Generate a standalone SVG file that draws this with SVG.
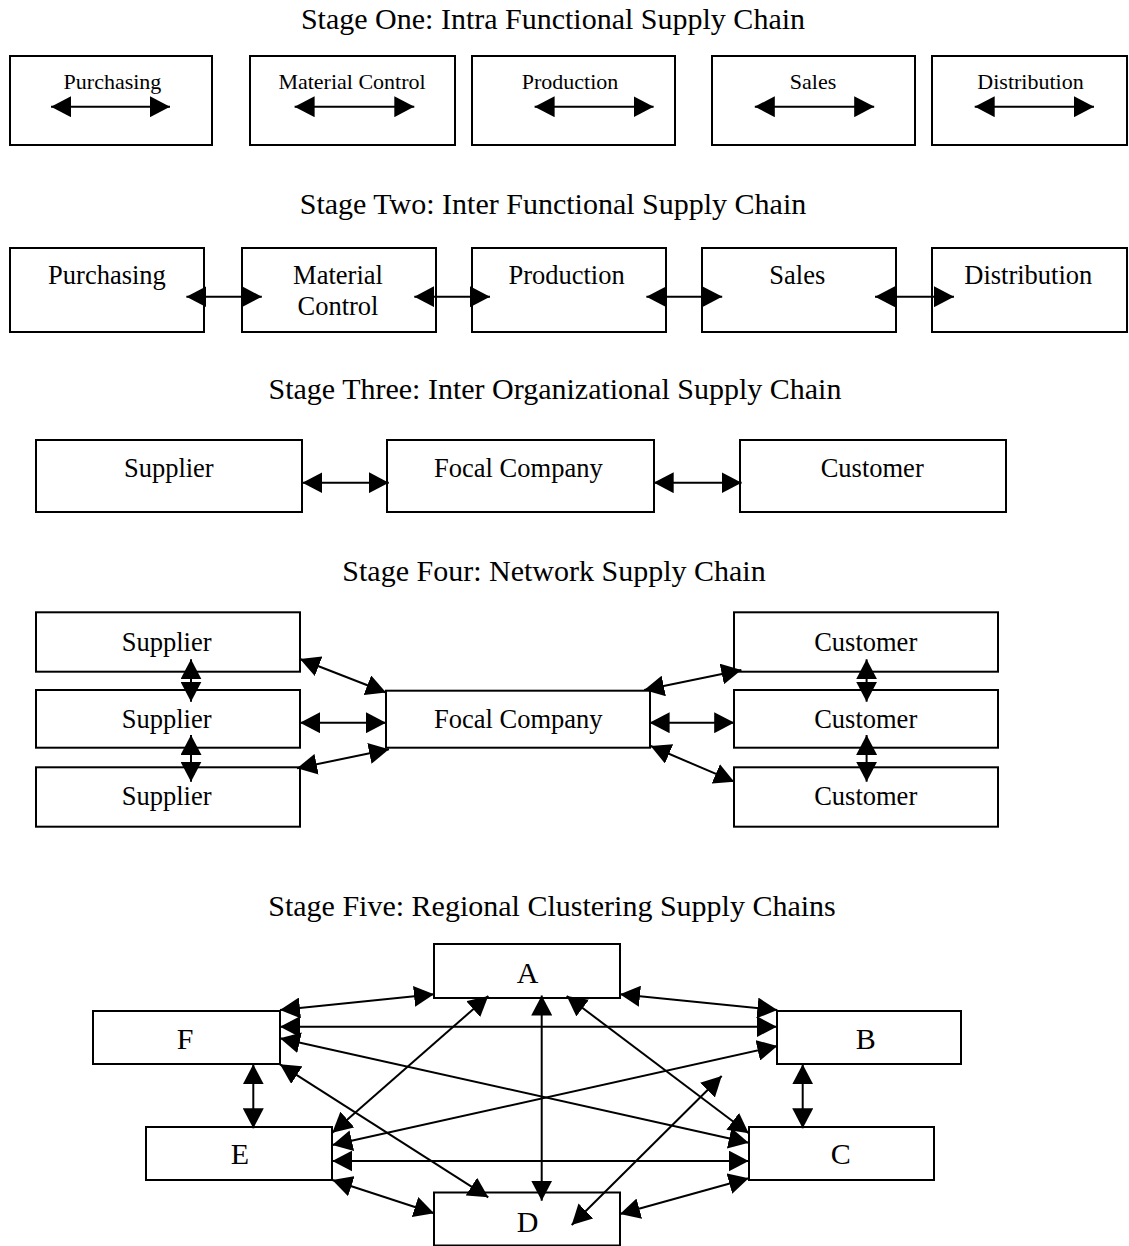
<svg xmlns="http://www.w3.org/2000/svg" width="1129" height="1246" viewBox="0 0 1129 1246">
  <style>
    .bg { fill: #ffffff; }
    .box { fill: #ffffff; stroke: #000000; stroke-width: 2; }
    .title { font-family: "Liberation Serif", "Times New Roman", serif; font-size: 30px; fill: #000000; text-anchor: middle; }
    .s1 { font-family: "Liberation Serif", "Times New Roman", serif; font-size: 22px; fill: #000000; text-anchor: middle; }
    .lbl { font-family: "Liberation Serif", "Times New Roman", serif; font-size: 26.5px; fill: #000000; text-anchor: middle; }
    .big { font-family: "Liberation Serif", "Times New Roman", serif; font-size: 30px; fill: #000000; text-anchor: middle; }
    .c { stroke: #000000; stroke-width: 2; fill: none; marker-start: url(#ah); marker-end: url(#ah); }
  </style>
  <defs>
    <marker id="ah" viewBox="0 0 20 21" markerWidth="20" markerHeight="21" refX="20" refY="10.5" markerUnits="userSpaceOnUse" orient="auto-start-reverse">
      <path d="M0,0 L20,10.5 L0,21 z" fill="#000000"/>
    </marker>
  </defs>
  <rect class="bg" x="0" y="0" width="1129" height="1246"/>

  <!-- Section headings -->
  <g id="headings">
    <text class="title" x="553" y="29">Stage One: Intra Functional Supply Chain</text>
    <text class="title" x="553" y="214">Stage Two: Inter Functional Supply Chain</text>
    <text class="title" x="555" y="399">Stage Three: Inter Organizational Supply Chain</text>
    <text class="title" x="554" y="581">Stage Four: Network Supply Chain</text>
    <text class="title" x="552" y="916">Stage Five: Regional Clustering Supply Chains</text>
  </g>

  <!-- Stage one: isolated functions -->
  <g id="s1-purchasing"><rect class="box" x="10" y="56" width="202" height="89"/><text class="s1" x="112.5" y="88.5">Purchasing</text></g>
  <g id="s1-material"><rect class="box" x="250" y="56" width="205" height="89"/><text class="s1" x="352" y="88.5">Material Control</text></g>
  <g id="s1-production"><rect class="box" x="472" y="56" width="203" height="89"/><text class="s1" x="570" y="88.5">Production</text></g>
  <g id="s1-sales"><rect class="box" x="712" y="56" width="203" height="89"/><text class="s1" x="813" y="88.5">Sales</text></g>
  <g id="s1-distribution"><rect class="box" x="932" y="56" width="195" height="89"/><text class="s1" x="1030.5" y="88.5">Distribution</text></g>

  <!-- Stage two: linked functions -->
  <g id="s2-purchasing"><rect class="box" x="10" y="248" width="194" height="84"/><text class="lbl" x="107" y="284">Purchasing</text></g>
  <g id="s2-material"><rect class="box" x="242" y="248" width="194" height="84"/><text class="lbl" x="338" y="284">Material</text><text class="lbl" x="338" y="315">Control</text></g>
  <g id="s2-production"><rect class="box" x="472" y="248" width="194" height="84"/><text class="lbl" x="566.6" y="284">Production</text></g>
  <g id="s2-sales"><rect class="box" x="702" y="248" width="194" height="84"/><text class="lbl" x="797.3" y="284">Sales</text></g>
  <g id="s2-distribution"><rect class="box" x="932" y="248" width="195" height="84"/><text class="lbl" x="1028.3" y="284">Distribution</text></g>

  <!-- Stage three: organisations -->
  <g id="s3-supplier"><rect class="box" x="36" y="440" width="266" height="72"/><text class="lbl" x="168.8" y="476.5">Supplier</text></g>
  <g id="s3-focal"><rect class="box" x="387" y="440" width="267" height="72"/><text class="lbl" x="518.4" y="476.5">Focal Company</text></g>
  <g id="s3-customer"><rect class="box" x="740" y="440" width="266" height="72"/><text class="lbl" x="872.2" y="476.5">Customer</text></g>

  <!-- Stage four: network -->
  <g id="s4-supplier1"><rect class="box" x="36" y="612.3" width="264" height="59.4"/><text class="lbl" x="166.6" y="651">Supplier</text></g>
  <g id="s4-supplier2"><rect class="box" x="36" y="690" width="264" height="57.7"/><text class="lbl" x="166.6" y="728">Supplier</text></g>
  <g id="s4-supplier3"><rect class="box" x="36" y="767.3" width="264" height="59.4"/><text class="lbl" x="166.6" y="805">Supplier</text></g>
  <g id="s4-focal"><rect class="box" x="386" y="690.7" width="264" height="57"/><text class="lbl" x="518.3" y="728">Focal Company</text></g>
  <g id="s4-customer1"><rect class="box" x="734" y="612.3" width="264" height="59.4"/><text class="lbl" x="865.7" y="651">Customer</text></g>
  <g id="s4-customer2"><rect class="box" x="734" y="690" width="264" height="57.7"/><text class="lbl" x="865.7" y="728">Customer</text></g>
  <g id="s4-customer3"><rect class="box" x="734" y="767.3" width="264" height="59.4"/><text class="lbl" x="865.7" y="805">Customer</text></g>

  <!-- Stage five: regional cluster -->
  <g id="s5-a"><rect class="box" x="434" y="944" width="186" height="54"/><text class="big" x="527.5" y="983">A</text></g>
  <g id="s5-f"><rect class="box" x="93" y="1011" width="187" height="53"/><text class="big" x="185" y="1049">F</text></g>
  <g id="s5-b"><rect class="box" x="777" y="1011" width="184" height="53"/><text class="big" x="865.8" y="1049">B</text></g>
  <g id="s5-e"><rect class="box" x="146" y="1127" width="186" height="53"/><text class="big" x="240" y="1164">E</text></g>
  <g id="s5-c"><rect class="box" x="749" y="1127" width="185" height="53"/><text class="big" x="840.7" y="1164">C</text></g>
  <g id="s5-d"><rect class="box" x="434" y="1192.5" width="186" height="53"/><text class="big" x="527.5" y="1232">D</text></g>

  <!-- Connectors -->
  <g id="connectors">
    <!-- stage one: in-box two-way arrows -->
    <line class="c" x1="51" y1="106.7" x2="170" y2="106.7"/>
    <line class="c" x1="294.6" y1="106.7" x2="414.3" y2="106.7"/>
    <line class="c" x1="534.6" y1="106.7" x2="653.6" y2="106.7"/>
    <line class="c" x1="754.8" y1="106.7" x2="874.2" y2="106.7"/>
    <line class="c" x1="974.7" y1="106.7" x2="1094" y2="106.7"/>

    <!-- stage two -->
    <line class="c" x1="186.4" y1="296.7" x2="261.8" y2="296.7"/>
    <line class="c" x1="414.3" y1="296.7" x2="490" y2="296.7"/>
    <line class="c" x1="646.4" y1="296.7" x2="722.2" y2="296.7"/>
    <line class="c" x1="875" y1="296.7" x2="954" y2="296.7"/>

    <!-- stage three -->
    <line class="c" x1="302.4" y1="482.7" x2="388.8" y2="482.7"/>
    <line class="c" x1="653.7" y1="482.7" x2="741.6" y2="482.7"/>

    <!-- stage four: supplier column -->
    <line class="c" x1="191" y1="659.3" x2="191" y2="701.7"/>
    <line class="c" x1="191" y1="735" x2="191" y2="781.7"/>
    <!-- stage four: customer column -->
    <line class="c" x1="866.6" y1="659.3" x2="866.6" y2="701.7"/>
    <line class="c" x1="866.6" y1="735" x2="866.6" y2="781.7"/>
    <!-- stage four: suppliers to focal company -->
    <line class="c" x1="300" y1="659" x2="386" y2="692.5"/>
    <line class="c" x1="300" y1="722.7" x2="386" y2="722.7"/>
    <line class="c" x1="297" y1="768.3" x2="389" y2="749.3"/>
    <!-- stage four: focal company to customers -->
    <line class="c" x1="644.2" y1="690" x2="741.4" y2="670"/>
    <line class="c" x1="649.6" y1="722.7" x2="734.2" y2="722.7"/>
    <line class="c" x1="650.7" y1="746" x2="734.2" y2="781.7"/>

    <!-- stage five -->
    <line class="c" x1="280" y1="1010" x2="434" y2="994.3"/>
    <line class="c" x1="620" y1="994.3" x2="777.3" y2="1010"/>
    <line class="c" x1="280" y1="1026.7" x2="776.7" y2="1026.7"/>
    <line class="c" x1="280" y1="1038.3" x2="748.7" y2="1142.7"/>
    <line class="c" x1="280" y1="1064.3" x2="488.3" y2="1197.3"/>
    <line class="c" x1="332.3" y1="1132.7" x2="488.3" y2="996"/>
    <line class="c" x1="541.7" y1="995.5" x2="541.7" y2="1200.7"/>
    <line class="c" x1="566.7" y1="996" x2="748.7" y2="1133.3"/>
    <line class="c" x1="332.3" y1="1145" x2="777.3" y2="1046"/>
    <line class="c" x1="332.3" y1="1161" x2="748.7" y2="1161"/>
    <line class="c" x1="332.3" y1="1180" x2="434" y2="1213.3"/>
    <line class="c" x1="748.7" y1="1178.3" x2="620" y2="1214"/>
    <line class="c" x1="571.7" y1="1225" x2="721.7" y2="1076"/>
    <line class="c" x1="253.3" y1="1064.3" x2="253.3" y2="1128.3"/>
    <line class="c" x1="802.7" y1="1064.3" x2="802.7" y2="1128.3"/>
  </g>
</svg>
